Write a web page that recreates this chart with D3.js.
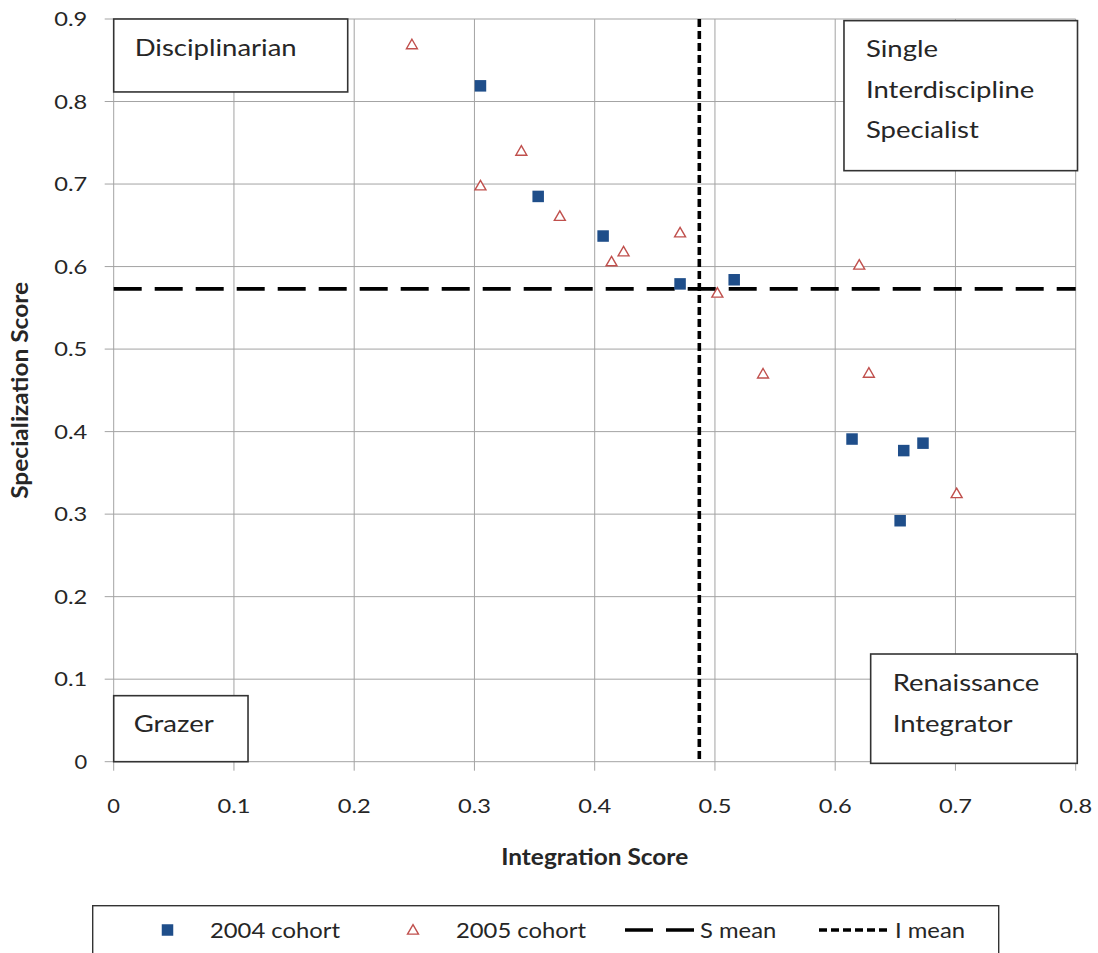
<!DOCTYPE html>
<html>
<head>
<meta charset="utf-8">
<script src="https://cdn.jsdelivr.net/npm/d3@7"></script>
<style>
  html, body { margin: 0; padding: 0; background: #fff; }
  svg { display: block; font-family: Lato, "Open Sans", sans-serif; }
</style>
</head>
<body>
<svg id="chart" width="1098" height="953"></svg>
<script>
// Integration vs. specialization scores per student, by cohort
const cohort2004X = [0.305, 0.353, 0.407, 0.471, 0.516, 0.614, 0.657, 0.673, 0.654];
const cohort2004Y = [0.819, 0.685, 0.637, 0.579, 0.584, 0.391, 0.377, 0.386, 0.292];

const cohort2005X = [0.248, 0.305, 0.339, 0.371, 0.414, 0.424, 0.471, 0.502, 0.540, 0.620, 0.628, 0.701];
const cohort2005Y = [0.869, 0.698, 0.740, 0.661, 0.606, 0.618, 0.641, 0.568, 0.470, 0.602, 0.471, 0.325];

// Cohort means
const sMean = 0.573;
const iMean = 0.487;

// Axis ticks
const xTicks = [0, 0.1, 0.2, 0.3, 0.4, 0.5, 0.6, 0.7, 0.8];
const yTicks = [0, 0.1, 0.2, 0.3, 0.4, 0.5, 0.6, 0.7, 0.8, 0.9];

// Quadrant labels (one entry per text line)
const disciplinarianLines = ["Disciplinarian"];
const specialistLines = ["Single", "Interdiscipline", "Specialist"];
const grazerLines = ["Grazer"];
const integratorLines = ["Renaissance", "Integrator"];
const legendNames = ["2004 cohort", "2005 cohort", "S mean", "I mean"];

const svg = d3.select("#chart");
const plot = { left: 113.7, right: 1075.7, top: 19, bottom: 761.7 };

const x = d3.scaleLinear().domain([0, 0.8]).range([plot.left, plot.right]);
const y = d3.scaleLinear().domain([0, 0.9]).range([plot.bottom, plot.top]);
const fmt = d3.format("~g");

const gridColor = "#a3a3a3";
const textColor = "#262626";
const blue = "#1f4e8a";
const red = "#c0504d";

// The typeface runs wide; widen each label horizontally by a factor
function widen(sel, factor) {
  sel.each(function () {
    const w = this.getComputedTextLength();
    d3.select(this).attr("textLength", w * factor).attr("lengthAdjust", "spacingAndGlyphs");
  });
}

// Gridlines (axis lines and tick marks coincide with them)
svg.append("g").selectAll("line").data(xTicks).join("line")
  .attr("x1", d => x(d)).attr("x2", d => x(d))
  .attr("y1", plot.top).attr("y2", plot.bottom + 9)
  .attr("stroke", gridColor).attr("stroke-width", 1);
svg.append("g").selectAll("line").data(yTicks).join("line")
  .attr("x1", plot.left - 9).attr("x2", plot.right)
  .attr("y1", d => y(d)).attr("y2", d => y(d))
  .attr("stroke", gridColor).attr("stroke-width", 1);

// Tick labels
const tickWidth = s => (s.length > 1 ? 33 : 12.7);
svg.append("g").selectAll("text").data(xTicks).join("text")
  .attr("x", d => x(d)).attr("y", plot.bottom + 51.5)
  .attr("text-anchor", "middle").attr("font-size", 20).attr("fill", textColor)
  .attr("textLength", d => tickWidth(fmt(d))).attr("lengthAdjust", "spacingAndGlyphs")
  .text(d => fmt(d));
svg.append("g").selectAll("text").data(yTicks).join("text")
  .attr("x", plot.left - 26.5).attr("y", d => y(d) + 7.2)
  .attr("text-anchor", "end").attr("font-size", 20).attr("fill", textColor)
  .attr("textLength", d => tickWidth(fmt(d))).attr("lengthAdjust", "spacingAndGlyphs")
  .text(d => fmt(d));

// Axis titles
const xTitle = svg.append("text")
  .attr("x", (plot.left + plot.right) / 2).attr("y", 865)
  .attr("text-anchor", "middle").attr("font-size", 22).attr("font-weight", "bold")
  .attr("fill", textColor).text("Integration Score");
const yTitle = svg.append("text")
  .attr("transform", `translate(28,${(plot.top + plot.bottom) / 2}) rotate(-90)`)
  .attr("text-anchor", "middle").attr("font-size", 22).attr("font-weight", "bold")
  .attr("fill", textColor).text("Specialization Score");
widen(xTitle, 187 / xTitle.node().getComputedTextLength());
widen(yTitle, 217 / yTitle.node().getComputedTextLength());

// Quadrant text boxes (corners in data units)
const boxes = [
  { x0: 0, x1: 0.1946, y0: 0.9, y1: 0.8116, lines: disciplinarianLines, tx: 21, ty: 37 },
  { x0: 0.6073, x1: 0.8015, y0: 0.898, y1: 0.7162, lines: specialistLines, tx: 22, ty: 36.5 },
  { x0: 0, x1: 0.1117, y0: 0.08, y1: 0, lines: grazerLines, tx: 20, ty: 36 },
  { x0: 0.6295, x1: 0.8013, y0: 0.1305, y1: -0.002, lines: integratorLines, tx: 22, ty: 37 }
];
const bg = svg.append("g").selectAll("g").data(boxes).join("g");
bg.append("rect")
  .attr("x", d => x(d.x0)).attr("y", d => y(d.y0))
  .attr("width", d => x(d.x1) - x(d.x0)).attr("height", d => y(d.y1) - y(d.y0))
  .attr("fill", "#fff").attr("stroke", "#333").attr("stroke-width", 1.6);
bg.each(function (d) {
  const g = d3.select(this);
  d.lines.forEach((ln, i) => {
    g.append("text").attr("class", "qlabel")
      .attr("x", x(d.x0) + d.tx).attr("y", y(d.y0) + d.ty + i * 40.6)
      .attr("font-size", 24).attr("fill", textColor).text(ln);
  });
});
const qRef = svg.selectAll(".qlabel").filter(function () { return this.textContent === "Disciplinarian"; });
widen(svg.selectAll(".qlabel"), 162 / qRef.node().getComputedTextLength());

// Mean lines
svg.append("line")
  .attr("x1", plot.left).attr("x2", plot.right)
  .attr("y1", y(sMean)).attr("y2", y(sMean))
  .attr("stroke", "#000").attr("stroke-width", 3.6).attr("stroke-dasharray", "28,13");
svg.append("line")
  .attr("x1", x(iMean)).attr("x2", x(iMean))
  .attr("y1", plot.top).attr("y2", plot.bottom)
  .attr("stroke", "#000").attr("stroke-width", 3.6).attr("stroke-dasharray", "8,4");

// Markers
const sq = 11.5;
const tri = d3.symbol().type(d3.symbolTriangle).size(52);
svg.append("g").selectAll("rect").data(d3.zip(cohort2004X, cohort2004Y)).join("rect")
  .attr("x", d => x(d[0]) - sq / 2).attr("y", d => y(d[1]) - sq / 2)
  .attr("width", sq).attr("height", sq).attr("fill", blue);
svg.append("g").selectAll("path").data(d3.zip(cohort2005X, cohort2005Y)).join("path")
  .attr("transform", d => `translate(${x(d[0])},${y(d[1]) + 1})`)
  .attr("d", tri).attr("fill", "#fff").attr("stroke", red).attr("stroke-width", 1.4);

// Legend
const lg = svg.append("g");
lg.append("rect").attr("x", 92.7).attr("y", 905.7).attr("width", 906).attr("height", 80)
  .attr("fill", "#fff").attr("stroke", "#333").attr("stroke-width", 1.4);
const ly = 930;
lg.append("rect").attr("x", 167.5 - sq / 2).attr("y", ly - sq / 2).attr("width", sq).attr("height", sq).attr("fill", blue);
lg.append("path").attr("transform", `translate(413,${ly + 1})`).attr("d", tri)
  .attr("fill", "#fff").attr("stroke", red).attr("stroke-width", 1.4);
lg.append("line").attr("x1", 625).attr("x2", 694).attr("y1", ly).attr("y2", ly)
  .attr("stroke", "#000").attr("stroke-width", 3.6).attr("stroke-dasharray", "28,13");
lg.append("line").attr("x1", 819).attr("x2", 890).attr("y1", ly).attr("y2", ly)
  .attr("stroke", "#000").attr("stroke-width", 3.6).attr("stroke-dasharray", "8,4");
const legendX = [210, 456, 700, 895];
const legendText = lg.selectAll("text").data(legendNames).join("text")
  .attr("x", (d, i) => legendX[i]).attr("y", 938)
  .attr("font-size", 22).attr("fill", textColor).text(d => d);
widen(legendText, 130 / legendText.node().getComputedTextLength());
</script>
</body>
</html>
